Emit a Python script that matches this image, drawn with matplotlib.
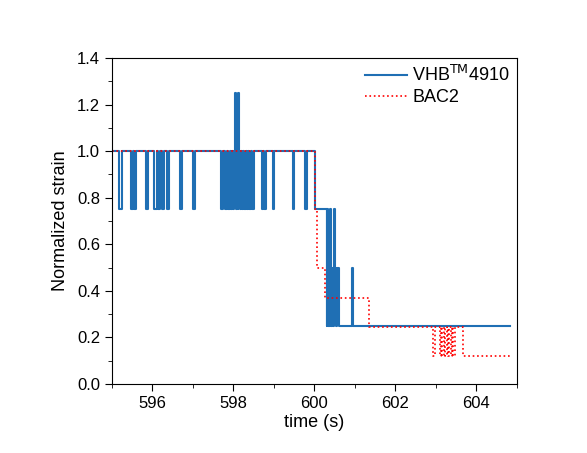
import matplotlib
matplotlib.use('Agg')
import matplotlib.pyplot as plt
from matplotlib.ticker import MultipleLocator

plt.rcParams['font.family'] = ['Liberation Sans', 'DejaVu Sans']

# VHB 4910 normalized strain, step data (time s, value)
vhb_t = [595.00, 595.17, 595.25, 595.47, 595.52, 595.54, 595.59, 595.84, 595.89,
         596.04, 596.11, 596.14, 596.19, 596.23, 596.28, 596.36, 596.41, 596.68, 596.73,
         597.00, 597.05, 597.69, 597.74, 597.79, 597.84, 597.87, 597.91,
         597.93, 597.96, 597.98, 598.01, 598.04, 598.06, 598.08, 598.10, 598.11, 598.14,
         598.16, 598.19, 598.21, 598.24, 598.27, 598.30, 598.33, 598.36, 598.39, 598.43,
         598.46, 598.50, 598.70, 598.74, 598.76, 598.80, 598.98, 599.01, 599.46, 599.49,
         599.77, 599.81, 600.02,
         600.30, 600.32, 600.34, 600.35, 600.37, 600.39, 600.41, 600.43, 600.45, 600.47,
         600.50, 600.53, 600.56, 600.60, 600.92, 600.96, 604.83]
vhb_v = [1.0, 0.75, 1.0, 0.75, 1.0, 0.75, 1.0, 0.75, 1.0,
         0.75, 1.0, 0.75, 1.0, 0.75, 1.0, 0.75, 1.0, 0.75, 1.0,
         0.75, 1.0, 0.75, 1.0, 0.75, 1.0, 0.75, 1.0,
         0.75, 1.0, 0.75, 1.0, 1.25, 0.75, 1.0, 0.75, 1.25, 1.0,
         0.75, 1.0, 0.75, 1.0, 0.75, 1.0, 0.75, 1.0, 0.75, 1.0,
         0.75, 1.0, 0.75, 1.0, 0.75, 1.0, 0.75, 1.0, 0.75, 1.0,
         0.75, 1.0, 0.75,
         0.25, 0.75, 0.25, 0.5, 0.25, 0.75, 0.25, 0.5, 0.25, 0.75,
         0.5, 0.25, 0.5, 0.25, 0.5, 0.25, 0.25]

# BAC2 normalized strain
bac_t = [595.00, 600.02, 600.06, 600.22, 600.25, 601.32, 601.35,
         602.93, 602.97, 603.10, 603.13, 603.16, 603.19, 603.22, 603.27, 603.30,
         603.33, 603.36, 603.40, 603.43, 603.47, 603.67, 604.83]
bac_v = [1.0, 0.75, 0.5, 0.5, 0.37, 0.37, 0.245,
         0.12, 0.245, 0.12, 0.245, 0.12, 0.245, 0.12, 0.245, 0.12,
         0.245, 0.12, 0.245, 0.12, 0.245, 0.12, 0.12]

fig = plt.figure(figsize=(5.87, 4.53), dpi=100)
ax = fig.add_axes([0.1908, 0.1523, 0.6899, 0.7197])

ax.plot(vhb_t, vhb_v, drawstyle='steps-post', color='#1f6fb4', lw=1.5,
        label='VHB$^{\\mathrm{TM}}$4910')
ax.plot(bac_t, bac_v, drawstyle='steps-post', color='#ff0000', lw=1.2,
        ls=':', label='BAC2')

ax.set_xlim(595, 605)
ax.set_ylim(0, 1.4)
ax.xaxis.set_major_locator(MultipleLocator(2))
ax.xaxis.set_minor_locator(MultipleLocator(1))
ax.yaxis.set_major_locator(MultipleLocator(0.2))
ax.yaxis.set_minor_locator(MultipleLocator(0.1))
ax.tick_params(which='both', direction='out', top=False, right=False, labelsize=12)
ax.tick_params(which='major', length=5)
ax.tick_params(which='minor', length=3)
ax.yaxis.set_major_formatter(plt.FuncFormatter(lambda v, p: f'{v:.1f}'))

ax.set_xlabel('time (s)', fontsize=13, labelpad=2)
ax.set_ylabel('Normalized strain', fontsize=13, labelpad=6)

ax.legend(loc='upper right', frameon=False, fontsize=13, handlelength=2.3,
          handletextpad=0.3, borderaxespad=0.0, labelspacing=0.2)

fig.savefig('out.png', dpi=100)
